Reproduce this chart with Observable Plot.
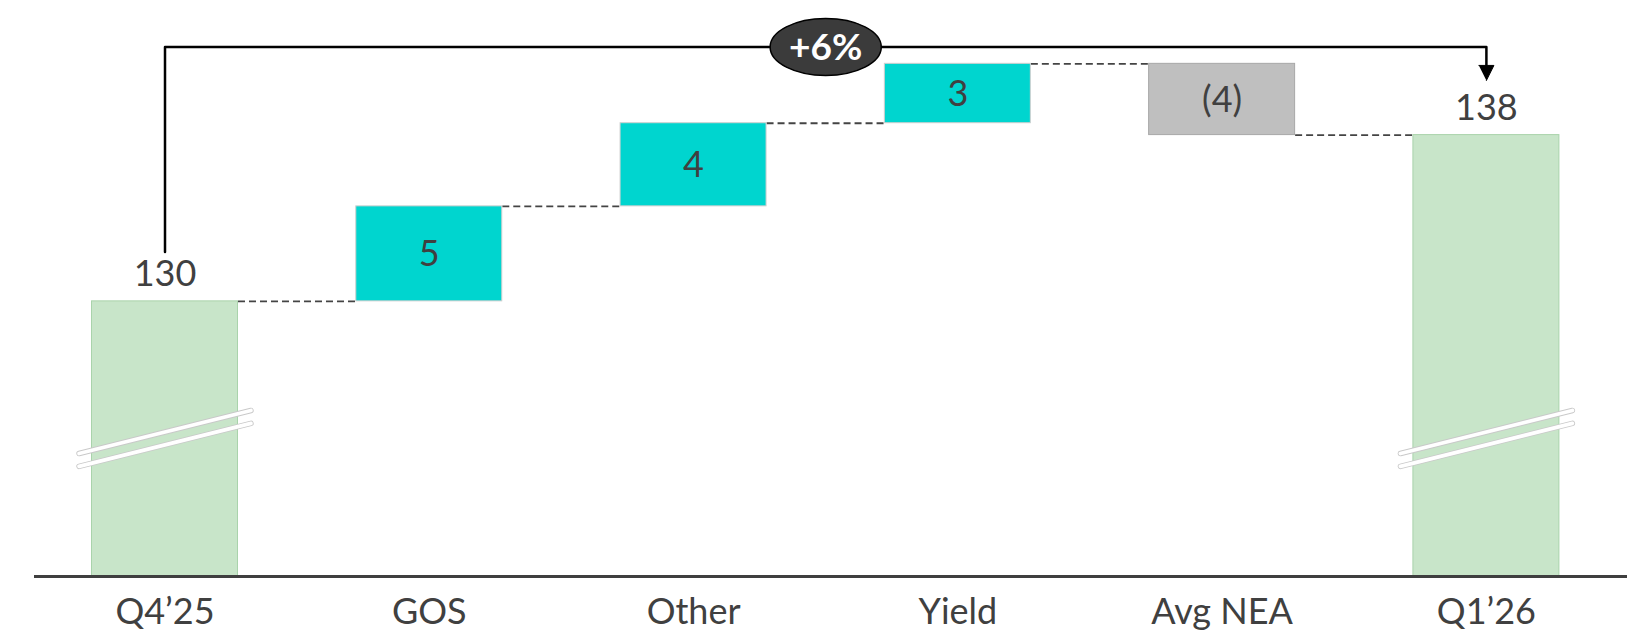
<!DOCTYPE html>
<html>
<head>
<meta charset="utf-8">
<script src="https://cdn.jsdelivr.net/npm/d3@7"></script>
<script src="https://cdn.jsdelivr.net/npm/@observablehq/plot@0.6"></script>
<style>
  html, body { margin: 0; padding: 0; background: #ffffff; }
  #chart svg { display: block; }
</style>
</head>
<body>
<div id="chart"></div>
<script>
// ---- Data ----
const categories = ["Q4’25", "GOS", "Other", "Yield", "Avg NEA", "Q1’26"];
const kinds      = ["total", "delta", "delta", "delta", "delta", "total"];
const values     = [130, 4.8, 4.2, 3.0, -3.6, 138.4];

// ---- Derived table for the waterfall ----
const fmt = v => v < 0 ? `(${Math.round(-v)})` : `${Math.round(v)}`;
const yBase = 116.1;            // value at the (broken) baseline
const rows = [];
let running = 0;
categories.forEach((c, i) => {
  const v = values[i];
  if (kinds[i] === "total") {
    rows.push({i, cat: c, kind: "total", y1: yBase, y2: v, label: fmt(v), end: v});
    running = v;
  } else {
    const start = running; running += v;
    rows.push({i, cat: c, kind: v >= 0 ? "up" : "down", y1: start, y2: running, label: fmt(v), end: running});
  }
});
const connectors = rows.slice(0, -1).map(r => ({i: r.i, level: r.end}));
const totals = rows.filter(r => r.kind === "total");
const first = rows[0], last = rows[rows.length - 1];
const pct = "+" + Math.round((last.y2 - first.y2) / first.y2 * 100) + "%";

// ---- Layout helpers ----
const hw = 0.2762;      // half bar width in band units
const bracketLevel = 142.85;
const colors = {total: "#c8e5c9", up: "#00d5cf", down: "#bfbfbf"};
const strokes = {total: "#a9d3ab", up: "#cfcfcf", down: "#a8a8a8"};

// break marks (two parallel slanted lines per total bar)
const breaks = [];
totals.forEach(r => {
  [123.4, 122.75].forEach(b => breaks.push({x1: r.i - hw - 0.049, x2: r.i + hw + 0.049, y1: b - 1.086, y2: b + 1.086}));
});

// bracket path
const bracket = [
  {x: first.i, y: first.y2 + 2.5},
  {x: first.i, y: bracketLevel},
  {x: last.i, y: bracketLevel},
  {x: last.i, y: bracketLevel - 0.93}
];
const arrowHead = [
  {x: last.i - 0.0284, y: bracketLevel - 0.93},
  {x: last.i + 0.0284, y: bracketLevel - 0.93},
  {x: last.i, y: bracketLevel - 1.69}
];

const ellipseSymbol = {
  draw(ctx, size) {
    const ry = Math.sqrt(size / Math.PI), rx = ry * 1.95, k = 0.5523;
    ctx.moveTo(rx, 0);
    ctx.bezierCurveTo(rx, ry * k, rx * k, ry, 0, ry);
    ctx.bezierCurveTo(-rx * k, ry, -rx, ry * k, -rx, 0);
    ctx.bezierCurveTo(-rx, -ry * k, -rx * k, -ry, 0, -ry);
    ctx.bezierCurveTo(rx * k, -ry, rx, -ry * k, rx, 0);
    ctx.closePath();
  }
};

const chart = Plot.plot({
  width: 1627,
  height: 634,
  marginLeft: 34,
  marginRight: 0,
  marginTop: 0,
  marginBottom: 58,
  x: {type: "linear", domain: [-0.4938, 5.5339]},
  y: {domain: [yBase, 145.2], axis: null},
  style: {fontFamily: "Lato, 'Noto Sans', sans-serif", fontSize: "36px", color: "#404040", background: "#ffffff"},
  marks: [
    // connectors
    Plot.link(connectors, {
      x1: d => d.i + hw, x2: d => d.i + 1 - hw, y1: "level", y2: "level",
      stroke: "#444444", strokeWidth: 1.9, strokeDasharray: "7,4"
    }),
    // bars
    Plot.rectY(rows, {
      x1: d => d.i - hw, x2: d => d.i + hw, y1: "y1", y2: "y2",
      fill: d => colors[d.kind], stroke: d => strokes[d.kind], strokeWidth: 1
    }),
    // break marks
    Plot.link(breaks, {x1: "x1", x2: "x2", y1: "y1", y2: "y2", stroke: "#c9c9c9", strokeWidth: 5.5, strokeLinecap: "round"}),
    Plot.link(breaks, {x1: "x1", x2: "x2", y1: "y1", y2: "y2", stroke: "#ffffff", strokeWidth: 3.8, strokeLinecap: "round"}),
    // baseline
    Plot.ruleY([yBase], {stroke: "#3f3f3f", strokeWidth: 3}),
    // category axis
    Plot.axisX(d3.range(categories.length), {
      tickFormat: i => categories[i], tickSize: 0, tickPadding: 22,
      fontSize: 36, fill: "#404040", label: null
    }),
    // total labels above bars
    Plot.text(totals, {x: "i", y: "y2", text: "label", dy: -27, fontSize: 36, fill: "#404040"}),
    // delta labels inside bars
    Plot.text(rows.filter(r => r.kind !== "total"), {
      x: "i", y: d => (d.y1 + d.y2) / 2, text: "label", dy: 1, fontSize: 36, fill: "#404040"
    }),
    // bracket
    Plot.line(bracket, {x: "x", y: "y", stroke: "#000000", strokeWidth: 2.5, curve: "linear"}),
    Plot.line(arrowHead, {x: "x", y: "y", fill: "#000000", stroke: "#000000", strokeWidth: 1}),
    // change bubble
    Plot.dot([{x: (first.i + last.i) / 2, y: bracketLevel}], {
      x: "x", y: "y", r: 28.5, symbol: ellipseSymbol, fill: "#3b3b3b", stroke: "#000000", strokeWidth: 1.5
    }),
    Plot.text([{x: (first.i + last.i) / 2, y: bracketLevel, t: pct}], {
      x: "x", y: "y", text: "t", fill: "#ffffff", fontSize: 37, fontWeight: "bold", dy: 1
    })
  ]
});
document.getElementById("chart").appendChild(chart);
</script>
</body>
</html>
